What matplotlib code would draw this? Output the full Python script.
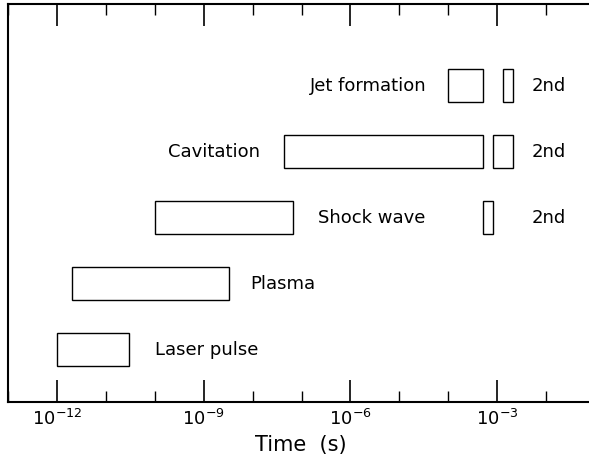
import matplotlib
matplotlib.use('Agg')
import matplotlib.pyplot as plt

# processes, row (1 = bottom), start and end time in seconds
names = ["Laser pulse", "Plasma", "Shock wave", "Cavitation", "Jet formation"]
rows = [1, 2, 3, 4, 5]
starts = [1e-12, 2e-12, 1e-10, 4.4e-8, 1e-4]
ends = [3e-11, 3.3e-9, 6.8e-8, 5e-4, 5e-4]

# second events
second_rows = [3, 4, 5]
second_starts = [5e-4, 8.3e-4, 1.3e-3]
second_ends = [8.3e-4, 2.1e-3, 2.1e-3]

# label placement: (x, horizontal alignment)
label_pos = {
    "Laser pulse": (1.0e-10, 'left'),
    "Plasma": (9e-9, 'left'),
    "Shock wave": (2.2e-7, 'left'),
    "Cavitation": (1.4e-8, 'right'),
    "Jet formation": (3.6e-5, 'right'),
}

fig = plt.figure(figsize=(5.89, 4.65), dpi=100)
ax = fig.add_axes([8 / 589, 63 / 465, 636 / 589, 398 / 465])

h = 0.5
for name, r, s, e in zip(names, rows, starts, ends):
    ax.barh(r, e - s, left=s, height=h, facecolor='white', edgecolor='black', linewidth=1)
    x, ha = label_pos[name]
    ax.text(x, r, name, ha=ha, va='center', fontsize=13)

for r, s, e in zip(second_rows, second_starts, second_ends):
    ax.barh(r, e - s, left=s, height=h, facecolor='white', edgecolor='black', linewidth=1)
    ax.text(5.1e-3, r, "2nd", ha='left', va='center', fontsize=13)

ax.set_xscale('log')
ax.set_xlim(1e-13, 1e0)
ax.set_ylim(0.21, 6.24)

ax.set_xticks([1e-12, 1e-9, 1e-6, 1e-3])
ax.set_xticklabels([r'$10^{-12}$', r'$10^{-9}$', r'$10^{-6}$', r'$10^{-3}$'], fontsize=13)
ax.set_xticks([10.0 ** k for k in range(-13, 1)], minor=True)
ax.xaxis.set_minor_formatter(plt.NullFormatter())
ax.tick_params(axis='x', which='major', direction='in', length=16, width=1.2, top=True, pad=5)
ax.tick_params(axis='x', which='minor', direction='in', length=8, width=1, top=True)
ax.set_yticks([])

for side in ['left', 'bottom', 'top']:
    ax.spines[side].set_linewidth(1.5)
ax.spines['right'].set_visible(False)

ax.set_xlabel('Time  (s)', fontsize=15)
ax.xaxis.set_label_coords(0.461, -0.082)

fig.savefig('out.png', dpi=100)
